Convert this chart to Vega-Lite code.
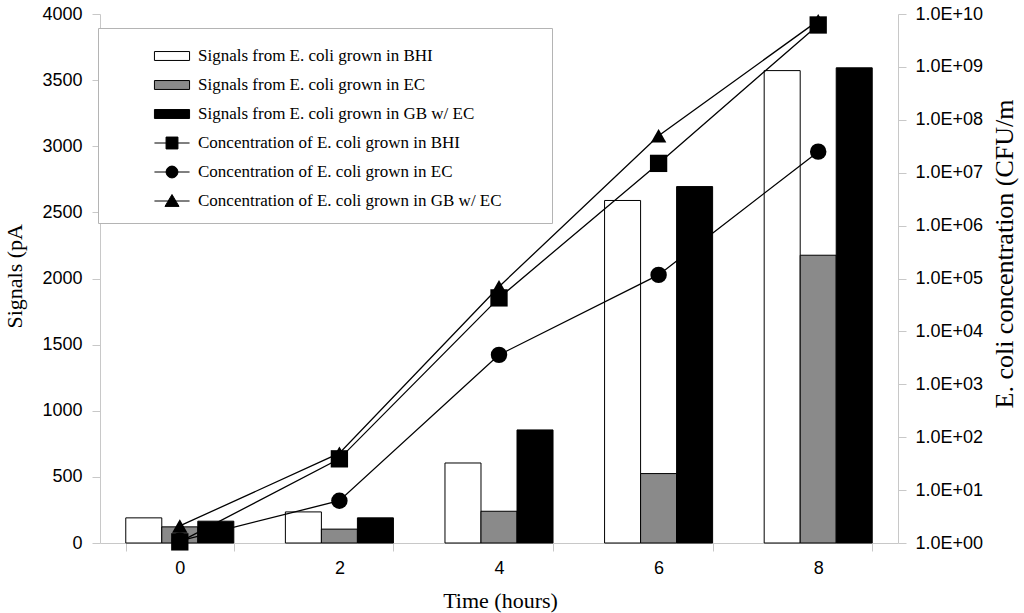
{
  "$schema": "https://vega.github.io/schema/vega-lite/v6.json",
  "width": 798,
  "height": 529,
  "autosize": {"type": "none"},
  "padding": {"left": 100, "top": 14, "right": 126, "bottom": 70},
  "background": "white",
  "config": {
    "view": {"stroke": null},
    "axis": {
      "labelFont": "Liberation Sans",
      "labelFontSize": 18,
      "labelColor": "black",
      "titleFont": "Liberation Serif",
      "titleFontSize": 22,
      "titleFontWeight": "normal",
      "titleColor": "black",
      "domainColor": "#c8c8c8",
      "tickColor": "#c8c8c8",
      "tickSize": 8,
      "grid": false
    }
  },
  "datasets": {
    "signals": [
      {"time": 0, "series": "Signals from E. coli grown in BHI", "signal": 190},
      {"time": 0, "series": "Signals from E. coli grown in EC", "signal": 122},
      {"time": 0, "series": "Signals from E. coli grown in GB w/ EC", "signal": 165},
      {"time": 2, "series": "Signals from E. coli grown in BHI", "signal": 235},
      {"time": 2, "series": "Signals from E. coli grown in EC", "signal": 105},
      {"time": 2, "series": "Signals from E. coli grown in GB w/ EC", "signal": 190},
      {"time": 4, "series": "Signals from E. coli grown in BHI", "signal": 605},
      {"time": 4, "series": "Signals from E. coli grown in EC", "signal": 240},
      {"time": 4, "series": "Signals from E. coli grown in GB w/ EC", "signal": 855},
      {"time": 6, "series": "Signals from E. coli grown in BHI", "signal": 2590},
      {"time": 6, "series": "Signals from E. coli grown in EC", "signal": 525},
      {"time": 6, "series": "Signals from E. coli grown in GB w/ EC", "signal": 2695},
      {"time": 8, "series": "Signals from E. coli grown in BHI", "signal": 3572},
      {"time": 8, "series": "Signals from E. coli grown in EC", "signal": 2176},
      {"time": 8, "series": "Signals from E. coli grown in GB w/ EC", "signal": 3593}
    ],
    "conc": [
      {"time": 0, "series": "Concentration of E. coli grown in BHI", "conc": 1.05},
      {"time": 2, "series": "Concentration of E. coli grown in BHI", "conc": 39},
      {"time": 4, "series": "Concentration of E. coli grown in BHI", "conc": 43000},
      {"time": 6, "series": "Concentration of E. coli grown in BHI", "conc": 15000000},
      {"time": 8, "series": "Concentration of E. coli grown in BHI", "conc": 6200000000},
      {"time": 0, "series": "Concentration of E. coli grown in EC", "conc": 1.1},
      {"time": 2, "series": "Concentration of E. coli grown in EC", "conc": 6.3},
      {"time": 4, "series": "Concentration of E. coli grown in EC", "conc": 3600},
      {"time": 6, "series": "Concentration of E. coli grown in EC", "conc": 117000},
      {"time": 8, "series": "Concentration of E. coli grown in EC", "conc": 25000000},
      {"time": 0, "series": "Concentration of E. coli grown in GB w/ EC", "conc": 2.1},
      {"time": 2, "series": "Concentration of E. coli grown in GB w/ EC", "conc": 50},
      {"time": 4, "series": "Concentration of E. coli grown in GB w/ EC", "conc": 70000},
      {"time": 6, "series": "Concentration of E. coli grown in GB w/ EC", "conc": 50000000},
      {"time": 8, "series": "Concentration of E. coli grown in GB w/ EC", "conc": 7500000000}
    ]
  },
  "encoding": {
    "x": {
      "field": "time",
      "type": "ordinal",
      "scale": {"paddingInner": 0.323, "paddingOuter": 0.1615},
      "axis": {
        "title": "Time (hours)",
        "labelAngle": 0,
        "tickBand": "extent",
        "labelPadding": 8,
        "titleX": 400,
        "titleY": 64,
        "titleBaseline": "alphabetic"
      }
    }
  },
  "layer": [
    {
      "data": {"name": "signals"},
      "mark": {"type": "bar", "stroke": "black", "strokeWidth": 1},
      "encoding": {
        "xOffset": {
          "field": "series",
          "type": "nominal",
          "scale": {"domain": ["Signals from E. coli grown in BHI", "Signals from E. coli grown in EC", "Signals from E. coli grown in GB w/ EC"]}
        },
        "y": {
          "field": "signal",
          "type": "quantitative",
          "scale": {"domain": [0, 4000], "nice": false},
          "axis": {
            "title": "Signals (pA",
            "values": [0, 500, 1000, 1500, 2000, 2500, 3000, 3500, 4000],
            "format": "d",
            "labelPadding": 10,
            "titleAngle": -90,
            "titleX": -79,
            "titleY": 314,
            "titleAlign": "left",
            "titleBaseline": "alphabetic"
          }
        },
        "fill": {
          "field": "series",
          "type": "nominal",
          "scale": {
            "domain": [
              "Signals from E. coli grown in BHI",
              "Signals from E. coli grown in EC",
              "Signals from E. coli grown in GB w/ EC",
              "Concentration of E. coli grown in BHI",
              "Concentration of E. coli grown in EC",
              "Concentration of E. coli grown in GB w/ EC"
            ],
            "range": ["white", "#8a8a8a", "black", "black", "black", "black"]
          },
          "legend": {
            "title": null,
            "orient": "none",
            "legendX": -2,
            "legendY": 14,
            "padding": 14,
            "strokeColor": "#b4b4b4",
            "fillColor": "white",
            "symbolSize": 729,
            "symbolOffset": 46,
            "labelOffset": 12,
            "rowPadding": 7,
            "labelFont": "Liberation Serif",
            "labelFontSize": 17,
            "labelColor": "black",
            "labelLimit": 500,
            "symbolStrokeColor": "black",
            "symbolStrokeWidth": 1,
            "encode": {
              "symbols": {
                "update": {
                  "stroke": {"value": "black"},
                  "strokeWidth": {"value": 1},
                  "shape": {"signal": "indexof(datum.value, 'Signals') == 0 ? 'M-1.3,-0.33H1.3V0.33H-1.3Z M26.9,0' : indexof(datum.value, 'BHI') > 0 ? 'M-1.3,0H1.3M-0.44,-0.44H0.44V0.44H-0.44Z M26.9,0' : indexof(datum.value, 'GB') > 0 ? 'M-1.3,0H1.3M-0.52,0.4L0,-0.48L0.52,0.4Z M26.9,0' : 'M-1.3,0H1.3M-0.44,0A0.44,0.44 0 1,0 0.44,0A0.44,0.44 0 1,0 -0.44,0Z M26.9,0'"}
                }
              }
            }
          }
        }
      }
    },
    {
      "data": {"name": "conc"},
      "encoding": {
        "y": {
          "field": "conc",
          "type": "quantitative",
          "scale": {"type": "log", "domain": [1, 10000000000], "nice": false},
          "axis": {
            "orient": "right",
            "title": "E. coli concentration (CFU/m",
            "values": [1, 10, 100, 1000, 10000, 100000, 1000000, 10000000, 100000000, 1000000000, 10000000000],
            "labelExpr": "'1.0E+' + (datum.value < 1e10 ? '0' : '') + round(log(datum.value) / LN10)",
            "labelPadding": 9,
            "titleFontSize": 26,
            "titleAngle": -90,
            "titleX": 114,
            "titleY": 394,
            "titleAlign": "left",
            "titleBaseline": "alphabetic"
          }
        }
      },
      "layer": [
        {
          "mark": {"type": "line", "color": "black", "strokeWidth": 1.3},
          "encoding": {"detail": {"field": "series", "type": "nominal"}}
        },
        {
          "mark": {"type": "point", "filled": true, "color": "black", "opacity": 1},
          "encoding": {
            "shape": {
              "field": "series",
              "type": "nominal",
              "scale": {
                "domain": ["Concentration of E. coli grown in BHI", "Concentration of E. coli grown in EC", "Concentration of E. coli grown in GB w/ EC"],
                "range": ["square", "circle", "triangle-up"]
              },
              "legend": null
            },
            "size": {
              "field": "series",
              "type": "nominal",
              "scale": {
                "domain": ["Concentration of E. coli grown in BHI", "Concentration of E. coli grown in EC", "Concentration of E. coli grown in GB w/ EC"],
                "range": [300, 240, 260]
              },
              "legend": null
            }
          }
        }
      ]
    }
  ],
  "resolve": {"scale": {"y": "independent"}}
}
